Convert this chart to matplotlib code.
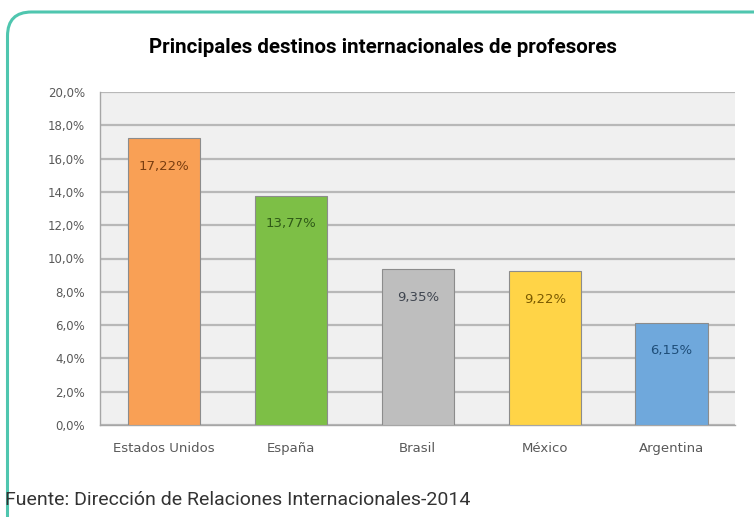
import matplotlib
matplotlib.use('Agg')
import matplotlib.pyplot as plt
from matplotlib.patches import FancyBboxPatch
from matplotlib.ticker import FuncFormatter
import numpy as np

# datos del grafico
paises = ['Estados Unidos', 'España', 'Brasil', 'México', 'Argentina']
porcentajes = [17.22, 13.77, 9.35, 9.22, 6.15]
colores = ['#F9A055', '#7DBF46', '#BEBEBE', '#FFD447', '#6FA8DC']
colores_texto = ['#7A3E10', '#2F5A17', '#404650', '#7A5A00', '#1F4E79']

titulo = 'Principales destinos internacionales de profesores'
fuente = 'Fuente: Dirección de Relaciones Internacionales-2014'

fig = plt.figure(figsize=(7.54, 5.17), dpi=100)
fig.patch.set_facecolor('white')

# marco verde redondeado (en pulgadas)
marco = FancyBboxPatch((0.075, -0.5), 8.0, 5.17 - 0.12 + 0.5,
                       transform=fig.dpi_scale_trans,
                       boxstyle='round,pad=0,rounding_size=0.24',
                       facecolor='none', edgecolor='#4FC6AF', linewidth=2.2)
fig.patches.append(marco)

ax = fig.add_axes([0.133, 0.178, 0.842, 0.644])
ax.set_facecolor('#F0F0F0')

x = np.arange(len(paises))
barras = ax.bar(x, porcentajes, width=0.57, color=colores,
                edgecolor='#8C8C8C', linewidth=0.8, zorder=3)

for b, v, c in zip(barras, porcentajes, colores_texto):
    ax.annotate('{:.2f}%'.format(v).replace('.', ','),
                (b.get_x() + b.get_width() / 2, v),
                xytext=(0, -28), textcoords='offset pixels',
                ha='center', va='center', fontsize=9.5, color=c, zorder=4)

ax.set_ylim(0, 20)
ax.set_xlim(-0.5, len(paises) - 0.5)
ax.set_yticks(np.arange(0, 21, 2))
ax.yaxis.set_major_formatter(FuncFormatter(lambda v, p: '{:.1f}%'.format(v).replace('.', ',')))
ax.set_xticks(x)
ax.set_xticklabels(paises)
ax.grid(axis='y', color='#B8B8B8', linewidth=1.6, zorder=0)
ax.tick_params(axis='both', length=0, colors='#595959', labelsize=8.5)
ax.tick_params(axis='x', labelsize=9.5, pad=12)
ax.tick_params(axis='y', pad=11)
for s in ['top', 'right']:
    ax.spines[s].set_visible(False)
for s in ['left', 'bottom']:
    ax.spines[s].set_color('#A6A6A6')
    ax.spines[s].set_linewidth(1.0)

fig.text(0.508, 0.909, titulo, ha='center', va='center', fontsize=14.8,
         fontweight='bold', family=['Roboto', 'DejaVu Sans'])
fig.text(0.007, 0.033, fuente, ha='left', va='center', fontsize=14,
         color='#333333', family=['Roboto', 'DejaVu Sans'])

fig.savefig('out.png', dpi=100)
